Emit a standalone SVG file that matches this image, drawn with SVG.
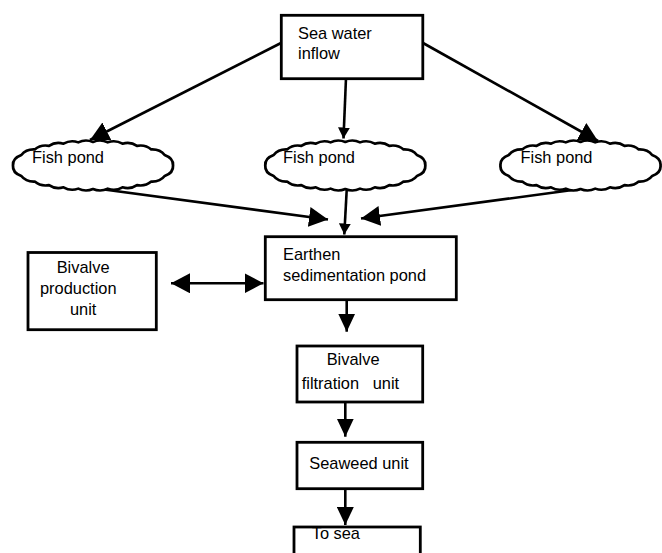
<svg xmlns="http://www.w3.org/2000/svg" width="662" height="553" viewBox="0 0 662 553">
<style>
text{font-family:"Liberation Sans",Arial,sans-serif;font-size:16.4px;fill:#000}
.box{fill:#fff;stroke:#000;stroke-width:2.8}
.pond{fill:#fff;stroke:#000;stroke-width:2.8;stroke-linejoin:round}
.ln{fill:none;stroke:#000;stroke-width:2.6}
</style>
<defs>
<marker id="big" viewBox="0 0 19 20" refX="19" refY="10" markerWidth="19" markerHeight="20" markerUnits="userSpaceOnUse" orient="auto-start-reverse"><path d="M0,0 L19,10 L0,20 Z" fill="#000"/></marker>
<marker id="mid" viewBox="0 0 18 17" refX="18" refY="8.5" markerWidth="18" markerHeight="17" markerUnits="userSpaceOnUse" orient="auto"><path d="M0,0 L18,8.5 L0,17 Z" fill="#000"/></marker>
<marker id="small" viewBox="0 0 11 12" refX="11" refY="6" markerWidth="11" markerHeight="12" markerUnits="userSpaceOnUse" orient="auto"><path d="M0,0 L11,6 L0,12 Z" fill="#000"/></marker>
<path id="cloud" d="M82,0 Q82.6,7.8 73.4,11.2 Q68.7,17.5 59.7,17.1 Q53.7,22.5 45.1,20.9 Q38.4,25.7 30.2,23.2 Q23,27.5 15.1,24.6 Q7.7,28.4 0,25 Q-7.7,28.4 -15.1,24.6 Q-23,27.5 -30.2,23.2 Q-38.4,25.7 -45.1,20.9 Q-53.7,22.5 -59.7,17.1 Q-68.7,17.5 -73.4,11.2 Q-82.6,7.8 -82,0 Q-82.6,-7.8 -73.4,-11.2 Q-68.7,-17.5 -59.7,-17.1 Q-53.7,-22.5 -45.1,-20.9 Q-38.4,-25.7 -30.2,-23.2 Q-23,-27.5 -15.1,-24.6 Q-7.7,-28.4 0,-25 Q7.7,-28.4 15.1,-24.6 Q23,-27.5 30.2,-23.2 Q38.4,-25.7 45.1,-20.9 Q53.7,-22.5 59.7,-17.1 Q68.7,-17.5 73.4,-11.2 Q82.6,-7.8 82,0 Z"/>
</defs>
<g id="connectors">
<line class="ln" x1="281" y1="43" x2="90" y2="140" marker-end="url(#big)"/>
<line class="ln" x1="346" y1="78" x2="343.5" y2="138.5" marker-end="url(#small)"/>
<line class="ln" x1="423" y1="43" x2="598" y2="141" marker-end="url(#big)"/>
<line class="ln" x1="93" y1="188" x2="328" y2="219.5" marker-end="url(#big)"/>
<line class="ln" x1="346.7" y1="190" x2="344.3" y2="234.5" marker-end="url(#small)"/>
<line class="ln" x1="580" y1="189" x2="361" y2="218.5" marker-end="url(#big)"/>
<line class="ln" x1="171" y1="283.3" x2="263.5" y2="283.3" marker-start="url(#big)" marker-end="url(#big)"/>
<line class="ln" x1="346.7" y1="300" x2="346.7" y2="331.7" marker-end="url(#mid)"/>
<line class="ln" x1="345.3" y1="402" x2="345.3" y2="436.7" marker-end="url(#mid)"/>
<line class="ln" x1="345.3" y1="488.5" x2="345.3" y2="525" marker-end="url(#mid)"/>
</g>
<g id="sea-water-inflow">
<rect class="box" x="281.3" y="15.3" width="141.5" height="63.4"/>
<text x="298" y="38.5">Sea water</text>
<text x="298" y="59.2">inflow</text>
</g>
<g id="fish-pond-1">
<use href="#cloud" class="pond" transform="translate(93,165.5) scale(0.976,0.94)"/>
<text x="32" y="163.3">Fish pond</text>
</g>
<g id="fish-pond-2">
<use href="#cloud" class="pond" transform="translate(345.3,165.5) scale(0.976,0.94)"/>
<text x="283" y="163.3">Fish pond</text>
</g>
<g id="fish-pond-3">
<use href="#cloud" class="pond" transform="translate(580.5,165.5) scale(0.976,0.94)"/>
<text x="520.5" y="163.3">Fish pond</text>
</g>
<g id="earthen-sedimentation-pond">
<rect class="box" x="265.3" y="236.7" width="191" height="63"/>
<text x="283" y="260">Earthen</text>
<text x="283" y="280.7">sedimentation pond</text>
</g>
<g id="bivalve-production-unit">
<rect class="box" x="28" y="252.5" width="128.3" height="77.2"/>
<text x="56.7" y="272.7">Bivalve</text>
<text x="40" y="294.3">production</text>
<text x="70" y="315">unit</text>
</g>
<g id="bivalve-filtration-unit">
<rect class="box" x="297" y="346" width="125.7" height="56"/>
<text x="326.7" y="365">Bivalve</text>
<text x="301.7" y="389.3" xml:space="preserve" style="white-space:pre">filtration   unit</text>
</g>
<g id="seaweed-unit">
<rect class="box" x="297" y="442.3" width="125.7" height="46.4"/>
<text x="309.3" y="469.3">Seaweed unit</text>
</g>
<g id="to-sea">
<rect class="box" x="294" y="527" width="126.3" height="40"/>
<text x="311.7" y="539.3">To sea</text>
</g>
</svg>
